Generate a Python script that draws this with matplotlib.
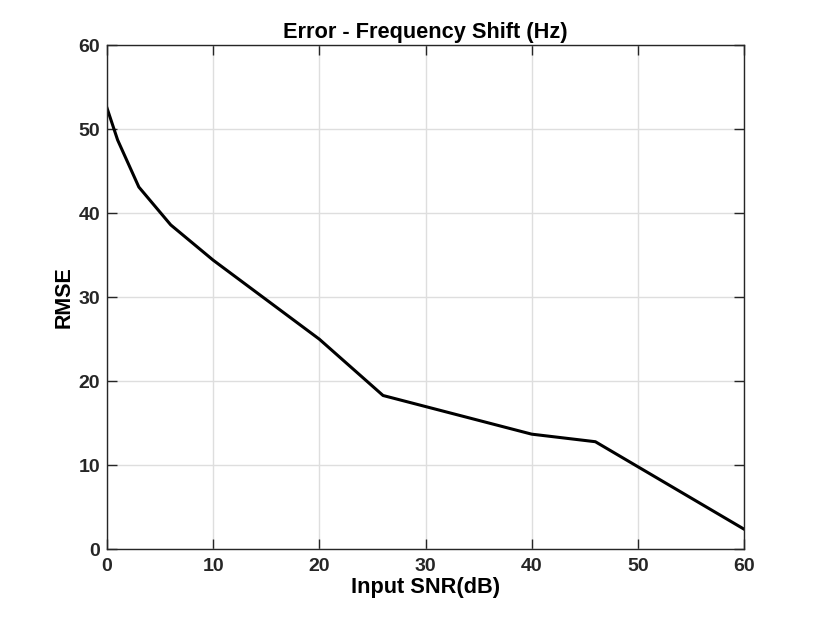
import numpy as np
import matplotlib.pyplot as plt

# RMSE of frequency shift estimate vs input SNR
snr_db = [0, 1, 3, 6, 10, 20, 26, 40, 46, 60]
rmse = [52.5, 48.7, 43.1, 38.6, 34.4, 25.0, 18.3, 13.7, 12.8, 2.4]

xticks = [0, 10, 20, 30, 40, 50, 60]
yticks = [0, 10, 20, 30, 40, 50, 60]

plt.rcParams['font.family'] = ['Liberation Sans', 'DejaVu Sans']
plt.rcParams['font.weight'] = 'bold'

fig = plt.figure(figsize=(8.22, 6.17), dpi=100)
ax = fig.add_axes([107 / 822, 1 - 549.3 / 617, (744 - 107) / 822, (549.3 - 45) / 617])

ax.plot(snr_db, rmse, color='black', linewidth=2.2)

ax.set_xlim(0, 60)
ax.set_ylim(0, 60)
ax.set_xticks(xticks)
ax.set_yticks(yticks)
ax.grid(True, color='#dedede', linewidth=1)
ax.set_axisbelow(True)

for s in ax.spines.values():
    s.set_color('#262626')
    s.set_linewidth(1)
ax.tick_params(direction='in', length=7, width=1, colors='#262626',
               top=True, right=True, labelsize=14, pad=5)
ax.tick_params(axis='x', pad=6)
for lbl in ax.get_xticklabels() + ax.get_yticklabels():
    lbl.set_fontweight('bold')

ax.set_title('Error - Frequency Shift (Hz)', fontsize=15.7, fontweight='bold', pad=5)
ax.set_xlabel('Input SNR(dB)', fontsize=15.7, fontweight='bold', labelpad=2)
ax.set_ylabel('RMSE', fontsize=15.5, fontweight='bold', labelpad=3)

fig.savefig('out.png', dpi=100)
